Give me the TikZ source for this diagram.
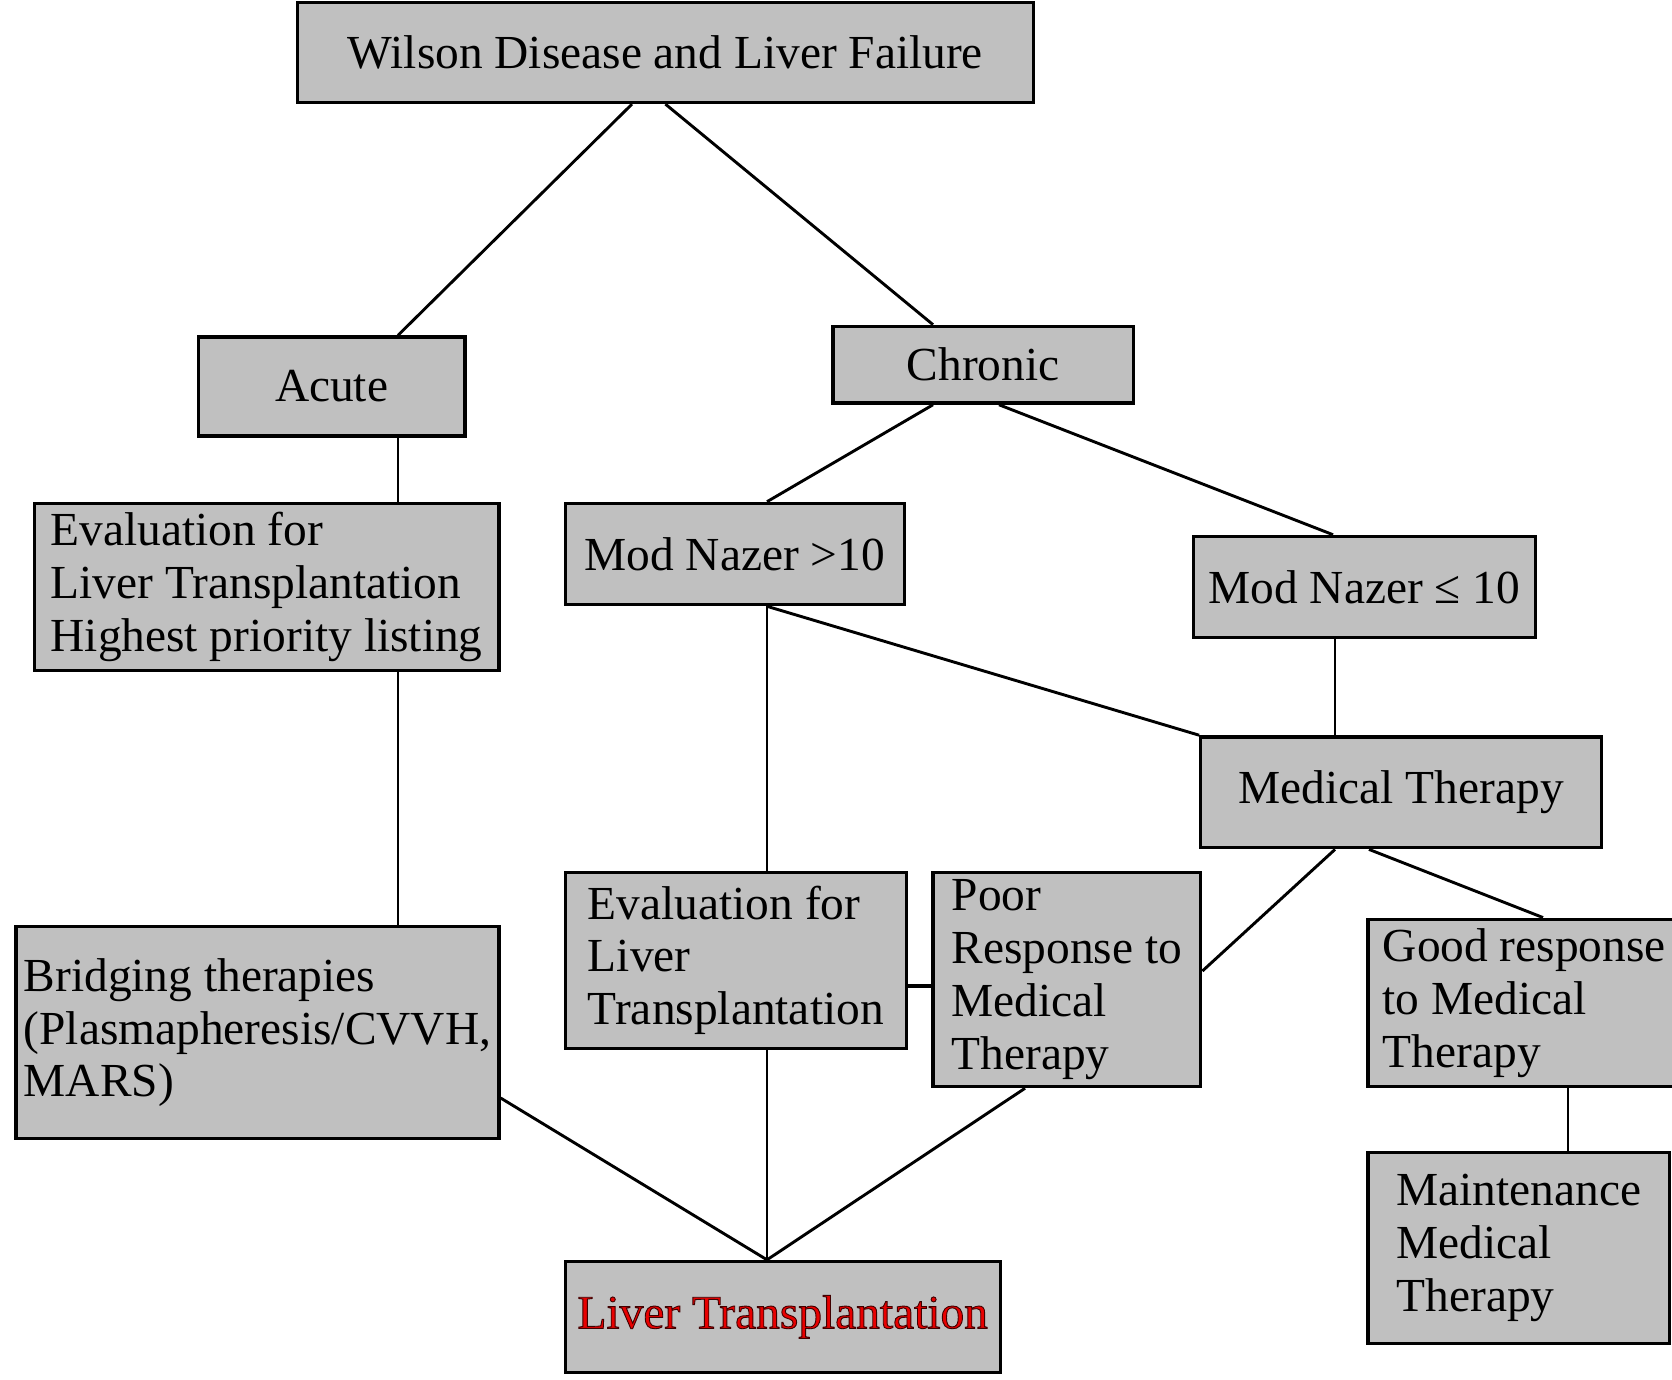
\documentclass[tikz,border=0pt]{standalone}
\usepackage{fontspec}
\setmainfont{Liberation Serif}
\usepackage{tikz}

\definecolor{boxgray}{HTML}{C0C0C0}
\definecolor{ltred}{HTML}{E80000}
\newcommand{\outlined}[1]{\special{pdf:literal 2 Tr 0.9 w 0.25 0 0 RG}#1\special{pdf:literal 0 Tr}}

\begin{document}
\begin{tikzpicture}[x=1pt, y=-1pt,
    box/.style={draw, fill=boxgray, line width=3.3pt, align=left, inner sep=0pt,
      font=\fontsize{47.4}{52.8}\selectfont},
    link/.style={line width=2.9pt}]
    \useasboundingbox (0,0) rectangle (1672,1379);

    \node[box, minimum width=735.8pt, minimum height=100.3pt] (wilson) at (665.4,52.3) {Wilson Disease and Liver Failure};
    \node[box, minimum width=266.6pt, minimum height=99.1pt] (acute) at (331.6,386.5) {Acute};
    \node[box, minimum width=300.7pt, minimum height=76.8pt] (chronic) at (983.2,364.7) {Chronic};
    \node[box, minimum width=464.9pt, minimum height=167.4pt] (evalacute) at (266.6,587) {Evaluation for\\Liver Transplantation\\Highest priority listing};
    \node[box, minimum width=339.1pt, minimum height=101.3pt] (nazerhigh) at (734.7,554) {Mod Nazer >10};
    \node[box, minimum width=342.3pt, minimum height=101.3pt] (nazerlow) at (1364.4,587) {Mod Nazer ≤ 10};
    \node[box, minimum width=400.9pt, minimum height=110.9pt] (medical) at (1401.2,792.3) {Medical Therapy};
    \node[box, minimum width=483pt, minimum height=212.2pt] (bridging) at (257.5,1032.7) {Bridging therapies\\(Plasmapheresis/CVVH,\\MARS)};
    \node[box, minimum width=341.3pt, minimum height=176pt] (evalchronic) at (735.8,960.2) {Evaluation for\\Liver\\Transplantation};
    \node[box, minimum width=267.7pt, minimum height=214.4pt] (poor) at (1066.9,979.4) {Poor\\Response to\\Medical\\Therapy};
    \node[box, minimum width=312.6pt, minimum height=167.4pt] (good) at (1524.3,1002.9) {Good response\\to Medical\\Therapy};
    \node[box, minimum width=301.8pt, minimum height=190.9pt] (maintenance) at (1518.9,1248.2) {Maintenance\\Medical\\Therapy};
    \node[box, minimum width=435.1pt, minimum height=110.9pt, text=ltred] (transplant) at (782.7,1316.9) {\outlined{Liver Transplantation}};

    \coordinate (wl) at (632,0);
    \coordinate (cl) at (933,0);
    \coordinate (cr) at (999,0);
    \coordinate (nl) at (1333,0);
    \coordinate (lspine) at (398,0);
    \coordinate (mspine) at (767,0);
    \coordinate (rspine) at (1335,0);
    \coordinate (gl) at (1369,0);
    \coordinate (gr) at (1543,0);
    \coordinate (gspine) at (1568,0);
    \coordinate (pl) at (1025,0);
    \coordinate (py) at (0,971);
    \coordinate (ey) at (0,986);
    \coordinate (by) at (0,1098);

    \draw[link] (wilson.south -| wl) -- (acute.north -| lspine);
    \draw[link] (wilson.south) -- (chronic.north -| cl);
    \draw[link] (acute.south -| lspine) -- (evalacute.north -| lspine);
    \draw[link] (evalacute.south -| lspine) -- (bridging.north -| lspine);
    \draw[link] (chronic.south -| cl) -- (nazerhigh.north -| mspine);
    \draw[link] (chronic.south -| cr) -- (nazerlow.north -| nl);
    \draw[link] (nazerhigh.south -| mspine) -- (evalchronic.north -| mspine);
    \draw[link] (nazerhigh.south -| mspine) -- (medical.north west);
    \draw[link] (nazerlow.south -| rspine) -- (medical.north -| rspine);
    \draw[link] (medical.south -| rspine) -- (poor.east |- py);
    \draw[link] (medical.south -| gl) -- (good.north -| gr);
    \draw[line width=3.8pt] (evalchronic.east |- ey) -- (poor.west |- ey);
    \draw[link] (good.south -| gspine) -- (maintenance.north -| gspine);
    \draw[link] (bridging.east |- by) -- (transplant.north -| mspine);
    \draw[link] (evalchronic.south -| mspine) -- (transplant.north -| mspine);
    \draw[link] (poor.south -| pl) -- (transplant.north -| mspine);
\end{tikzpicture}
\end{document}
